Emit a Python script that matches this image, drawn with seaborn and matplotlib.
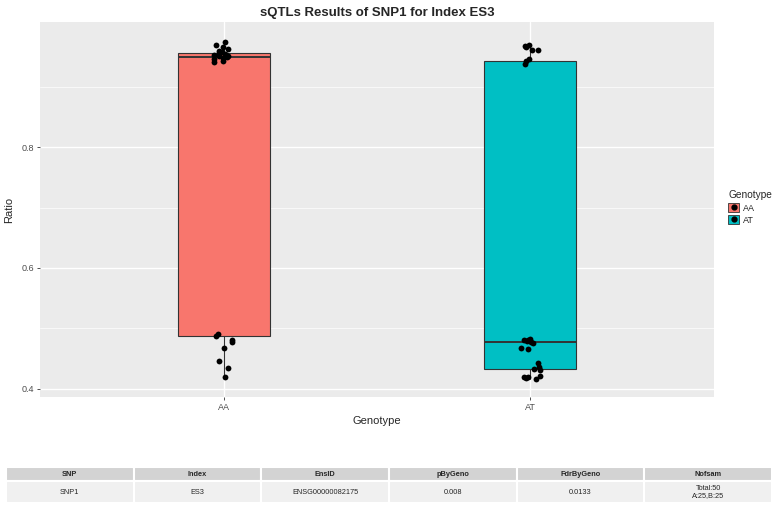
import numpy as np
import pandas as pd
import matplotlib
matplotlib.use("Agg")
import matplotlib.pyplot as plt
import seaborn as sns
from matplotlib.patches import Patch
from matplotlib.lines import Line2D
from matplotlib.legend_handler import HandlerTuple

# ---- data ----
genotypes = ["AA", "AT"]
colors = ["#F8766D", "#00BFC4"]

ratio_AA = [0.420, 0.434, 0.445, 0.467, 0.477, 0.480, 0.488, 0.490,
            0.942, 0.944, 0.946, 0.948, 0.950, 0.951, 0.952, 0.953,
            0.954, 0.955, 0.957, 0.958, 0.960, 0.963, 0.966, 0.970, 0.974]
ratio_AT = [0.416, 0.418, 0.419, 0.420, 0.421, 0.430, 0.432, 0.435,
            0.443, 0.465, 0.468, 0.476, 0.478, 0.479, 0.480, 0.481,
            0.482, 0.938, 0.943, 0.947, 0.961, 0.962, 0.966, 0.968, 0.970]

table_cols = ["SNP", "Index", "EnsID", "pByGeno", "FdrByGeno", "Nofsam"]
table_row = ["SNP1", "ES3", "ENSG00000082175", "0.008", "0.0133", "Total:50\nA:25,B:25"]

df = pd.DataFrame({
    "Genotype": ["AA"] * len(ratio_AA) + ["AT"] * len(ratio_AT),
    "Ratio": ratio_AA + ratio_AT,
})

sns.set_theme(style="darkgrid", rc={
    "axes.facecolor": "#EBEBEB",
    "grid.color": "white",
    "grid.linewidth": 1.0,
})
plt.rcParams["font.family"] = ["Liberation Sans", "DejaVu Sans"]

W, H = 777, 507
fig = plt.figure(figsize=(W / 100, H / 100), dpi=100)
ax = fig.add_axes([40 / W, 1 - 397 / H, 674 / W, 375 / H])

pal = dict(zip(genotypes, colors))
sns.boxplot(data=df, x="Genotype", y="Ratio", hue="Genotype", palette=pal,
            order=genotypes, width=0.3, linecolor="#333333", linewidth=0.8,
            saturation=1, showfliers=False, showcaps=False, legend=False, ax=ax,
            medianprops={"linewidth": 1.4})
np.random.seed(3)
sns.stripplot(data=df, x="Genotype", y="Ratio", order=genotypes, color="black",
              jitter=0.035, size=4.2, ax=ax)

ax.set_xlim(-0.6, 1.6)
ax.set_ylim(0.386, 1.008)
ax.set_yticks([0.4, 0.6, 0.8])
ax.set_yticks([0.5, 0.7, 0.9], minor=True)
ax.grid(which="minor", axis="y", color="white", linewidth=0.5)
ax.grid(which="major", color="white", linewidth=1.0)
ax.tick_params(axis="both", which="major", length=2.5, width=0.6, color="#333333",
               labelsize=6.5, labelcolor="#4D4D4D", pad=2, left=True, bottom=True)
ax.tick_params(which="minor", length=0)
for s in ax.spines.values():
    s.set_visible(False)
ax.set_axisbelow(True)

ax.set_xlabel("Genotype", fontsize=8, labelpad=3)
ax.set_ylabel("Ratio", fontsize=8, labelpad=5)
ax.set_title("sQTLs Results of SNP1 for Index ES3", fontsize=9.5,
             fontweight="bold", pad=4)

# legend
handles = [(Patch(facecolor=c, edgecolor="#333333", linewidth=0.6),
            Line2D([], [], marker="o", color="black", markersize=3.5, linestyle="None"))
           for c in colors]
leg = fig.legend(handles, genotypes, title="Genotype", loc="upper left",
                 bbox_to_anchor=(720 / W, 1 - 182 / H), frameon=False,
                 fontsize=6.5, title_fontsize=7.3, handlelength=1.2, handleheight=1.2,
                 handletextpad=0.4, labelspacing=0.3,
                 handler_map={tuple: HandlerTuple(ndivide=1, pad=0)})
leg._legend_box.align = "left"

# summary table
tax = fig.add_axes([6 / W, 1 - 503 / H, 766 / W, 36 / H])
tax.axis("off")
tbl = tax.table(cellText=[table_row], colLabels=table_cols, cellLoc="center",
                bbox=[0, 0, 1, 1])
tbl.auto_set_font_size(False)
for (r, c), cell in tbl.get_celld().items():
    cell.set_edgecolor("white")
    cell.set_linewidth(1.5)
    cell.get_text().set_fontsize(5.3)
    if r == 0:
        cell.set_facecolor("#D3D3D3")
        cell.set_height(14)
        cell.get_text().set_fontweight("bold")
    else:
        cell.set_facecolor("#F0F0F0")
        cell.set_height(22)

fig.savefig("out.png", dpi=100)
